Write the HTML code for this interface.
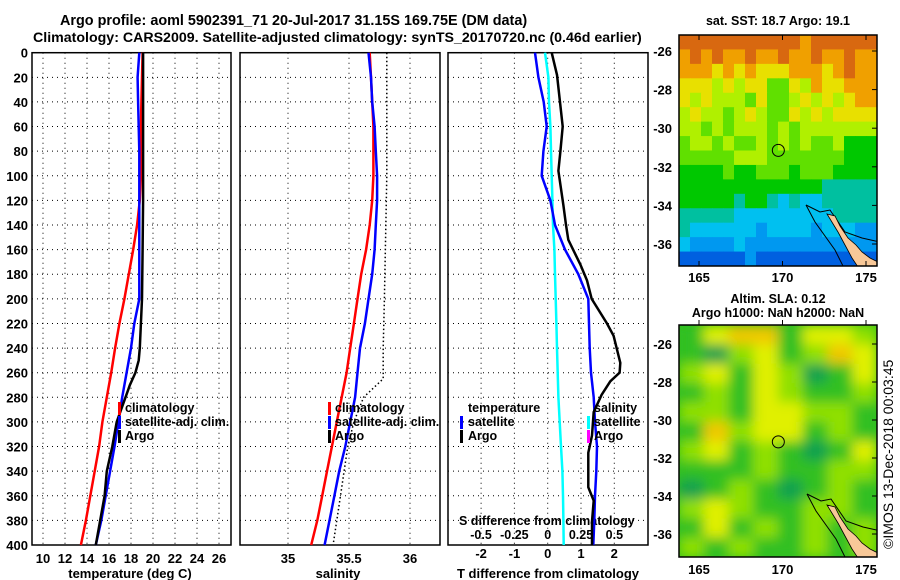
<!DOCTYPE html>
<html><head><meta charset="utf-8"><style>
html,body{margin:0;padding:0;background:#fff;}
svg{display:block;font-family:"Liberation Sans",sans-serif;font-weight:bold;}
</style></head><body>
<svg id="chart" width="900" height="580" viewBox="0 0 900 580" xmlns="http://www.w3.org/2000/svg">
<rect width="900" height="580" fill="#fff"/>
<text x="60" y="25" font-size="14.4">Argo profile: aoml 5902391_71 20-Jul-2017 31.15S 169.75E (DM data)</text>
<text x="33" y="42" font-size="14.2">Climatology: CARS2009. Satellite-adjusted climatology: synTS_20170720.nc (0.46d earlier)</text>
<g id="g"></g>
</svg>
<script>
// ---- data ----
const depths = [0,20,40,60,80,100,120,140,160,180,200,220,240,260,280,300,320,340,360,380,400];
const tempClim = [19.05,19.0,18.95,18.9,18.9,18.9,18.8,18.55,18.2,17.8,17.4,16.95,16.55,16.2,15.8,15.4,15.1,14.7,14.3,13.9,13.45];
const tempSat = [18.75,18.6,18.65,18.7,18.75,18.75,18.75,18.75,18.75,18.75,18.75,18.3,18.0,17.6,17.2,16.85,16.5,16.1,15.7,15.3,14.8];
const argoDepths = [0,40,80,120,160,200,220,240,250,260,270,280,300,320,340,360,380,400];
const tempArgo = [19.1,19.1,19.1,19.1,19.05,19.0,18.9,18.8,18.7,18.4,17.9,17.5,16.7,16.3,15.8,15.6,15.2,14.8];
const salClim = [35.67,35.68,35.69,35.7,35.7,35.7,35.69,35.67,35.64,35.6,35.57,35.54,35.51,35.48,35.44,35.4,35.36,35.32,35.28,35.24,35.19];
const salSat = [35.66,35.68,35.69,35.71,35.72,35.73,35.73,35.72,35.71,35.69,35.66,35.63,35.59,35.57,35.55,35.51,35.47,35.42,35.38,35.34,35.3];
const salArgoDepths = [0,100,200,240,265,280,300,320,340,360,380,400];
const salArgo = [35.81,35.81,35.79,35.78,35.78,35.62,35.54,35.49,35.46,35.43,35.4,35.37];
const tdiffSat = [-0.38,-0.28,-0.12,-0.03,-0.13,-0.18,0.08,0.22,0.52,0.92,1.22,1.24,1.26,1.3,1.38,1.42,1.48,1.46,1.42,1.4,1.37];
const tdArgoDepths = [0,18,60,80,96,124,140,152,172,185,200,220,230,252,260,267,278,292,311,325,353,364,381,400];
const tdiffArgo = [0.12,0.28,0.45,0.38,0.32,0.47,0.55,0.62,0.98,1.18,1.32,1.78,1.98,2.18,2.16,1.88,1.62,1.38,1.33,1.22,1.22,1.38,1.33,1.33];
const sdiffSat = [-0.02,0.005,0.01,0.02,0.025,0.03,0.035,0.04,0.05,0.055,0.06,0.065,0.07,0.075,0.08,0.09,0.1,0.11,0.115,0.118,0.12];
const depthTicks = [0,20,40,60,80,100,120,140,160,180,200,220,240,260,280,300,320,340,360,380,400];
const tempTicks = [10,12,14,16,18,20,22,24,26];
const salTicks = [35,35.5,36];
const tdTicks = [-2,-1,0,1,2];
const sdTicks = [-0.5,-0.25,0,0.25,0.5];
const sstGrid = ["AAAAAAAAAAA9AAAAAA","9A9A99A99A99A99A99","999898988899989A99","888787886687988999","878777686678787899","787767876687878888","776767776767777777","677676676767667555","666667776666666555","555565566656665555","555555555555544444","555554554343344444","444443333333334444","433333323333233322","322223222222222222","111111211111111111"];
const slaGrid = ["13441332","10231243","23132013","12132112","22133221","14233121","23121013","11121122","01210121","23211221","13121212","21211212"];
const latTicks = [-26,-28,-30,-32,-34,-36];
const lonTicks = [165,170,175];
const argoLon = 169.75, argoLat = -31.15;

// ---- helpers ----
const NS="http://www.w3.org/2000/svg";
const G=document.getElementById('g');
function mk(tag,attrs,parent){const e=document.createElementNS(NS,tag);for(const k in attrs)e.setAttribute(k,attrs[k]);(parent||G).appendChild(e);return e;}
const Y0=52.7, PH=492.3;
const yD=d=>Y0+d*(PH/400);
const xT=t=>32+(t-9)*11;
const xS=s=>288+(s-35)*122;
const xTD=t=>547.7+t*33.3;
const xSD=s=>547.7+s*133.3;
function line(xs,ds,xf,color,w,dash,name){
  const p=xs.map((v,i)=>xf(v).toFixed(1)+','+yD(ds[i]).toFixed(1)).join(' ');
  const a={points:p,fill:'none',stroke:color,'stroke-width':w};
  if(dash)a['stroke-dasharray']=dash;
  const e=mk('polyline',a);
  
  
}
function txt(x,y,s,anchor,size,name){const e=mk('text',{x:x,y:y,'font-size':size||13,'text-anchor':anchor||'start'});e.textContent=s;
  
  
  return e;}
function panel(x0,x1,vx,name){
  for(const d of depthTicks){if(d===0||d===400)continue;const l=mk('line',{x1:x0,x2:x1,y1:yD(d),y2:yD(d),stroke:'#000','stroke-width':1,'stroke-dasharray':'1,4'});
    
    }
  for(const v of vx){const l=mk('line',{x1:v,x2:v,y1:Y0,y2:Y0+PH,stroke:'#000','stroke-width':1,'stroke-dasharray':'1,4'});
    
    }
  const r=mk('rect',{x:x0,y:Y0,width:x1-x0,height:PH,fill:'none',stroke:'#000','stroke-width':1.5});
  
  
}
function mark(x,y,color){const r=mk('rect',{x:x,y:y-10,width:3,height:13,fill:color});
  
  }

// ---- panel 1: temperature ----
panel(32,231,tempTicks.map(xT),'temperature-panel');
for(const d of depthTicks) txt(28,yD(d)+5,String(d),'end',13,'depth-tick-label');
for(const t of tempTicks) txt(xT(t),563,String(t),'middle',13,'temperature-tick-label');
txt(130,578,'temperature (deg C)','middle',13,'temperature-axis-title');
line(tempClim,depths,xT,'#f00',2.5,null,'temp-climatology-line');
line(tempSat,depths,xT,'#00f',2.5,null,'temp-satellite-line');
line(tempArgo,argoDepths,xT,'#000',2.5,null,'temp-argo-line');
mark(118,412,'#f00');mark(118,426,'#00f');mark(118,440,'#000');
txt(125,412,'climatology','start',12.5,'legend-climatology');
txt(125,426,'satellite-adj. clim.','start',12.5,'legend-satellite-adj');
txt(125,440,'Argo','start',12.5,'legend-argo');

// ---- panel 2: salinity ----
panel(240,440,salTicks.map(xS),'salinity-panel');
for(const s of salTicks) txt(xS(s),563,String(s),'middle',13,'salinity-tick-label');
txt(338,578,'salinity','middle',13,'salinity-axis-title');
line(salClim,depths,xS,'#f00',2.5,null,'sal-climatology-line');
line(salSat,depths,xS,'#00f',2.5,null,'sal-satellite-line');
line(salArgo,salArgoDepths,xS,'#000',1.5,'1.5,2.5','sal-argo-line');
mark(328,412,'#f00');mark(328,426,'#00f');mark(328,440,'#000');
txt(335,412,'climatology','start',12.5,'legend-climatology');
txt(335,426,'satellite-adj. clim.','start',12.5,'legend-satellite-adj');
txt(335,440,'Argo','start',12.5,'legend-argo');

// ---- panel 3: differences ----
panel(448,648,tdTicks.map(xTD),'difference-panel');
for(const t of tdTicks) txt(xTD(t),558,String(t),'middle',13,'tdiff-tick-label');
txt(548,578,'T difference from climatology','middle',13,'tdiff-axis-title');
txt(459,525,'S difference from climatology','start',12.5,'sdiff-axis-title');
for(const s of sdTicks) txt(xSD(s),539,String(s),'middle',12.5,'sdiff-tick-label');
line(sdiffSat,depths,xSD,'#00ffff',2.5,null,'sdiff-satellite-line');
line(tdiffSat,depths,xTD,'#00f',2.5,null,'tdiff-satellite-line');
line(tdiffArgo,tdArgoDepths,xTD,'#000',2.5,null,'tdiff-argo-line');
txt(468,412,'temperature','start',12.5,'legend-temperature');
mark(460,426,'#00f');mark(460,440,'#000');
txt(468,426,'satellite','start',12.5,'legend-satellite');
txt(468,440,'Argo','start',12.5,'legend-argo');
txt(594,412,'salinity','start',12.5,'legend-salinity');
mark(587,426,'#00ffff');mark(587,440,'#ff00ff');
txt(594,426,'satellite','start',12.5,'legend-satellite');
txt(594,440,'Argo','start',12.5,'legend-argo');

// ---- maps ----
const defs=mk('defs',{});
const c1=mk('clipPath',{id:'c1'},defs);mk('rect',{x:679,y:35,width:198,height:231},c1);
const c2=mk('clipPath',{id:'c2'},defs);mk('rect',{x:679,y:325,width:198,height:232},c2);
const f=mk('filter',{id:'blur',x:'-20%',y:'-20%',width:'140%',height:'140%'},defs);mk('feGaussianBlur',{stdDeviation:6},f);
const sstColors=['#0030c0','#0060e0','#0098f0','#00c0f0','#00c0a0','#00c800','#60e000','#b0f000','#e8e000','#f0a000','#d86810'];
const slaColors=['#10a050','#30c020','#90e000','#e0f000','#f0c800'];
// map 1
(function(){
  const X=lon=>699+(lon-165)*16.7, Y=lat=>51+(-26-lat)*19.3;
  const g=mk('g',{'clip-path':'url(#c1)'});
  
  
  const nr=sstGrid.length, nc=sstGrid[0].length, cw=198/nc, ch=231/nr;
  sstGrid.forEach((row,r)=>{[...row].forEach((c,ci)=>{const v=c==='A'?10:+c;
    const cell=mk('rect',{x:679+ci*cw,y:35+r*ch,width:cw+0.5,height:ch+0.5,fill:sstColors[v]},g);
    
    });});
  mk('polyline',{points:'806,205 820,212 830,210 845,232 862,238 880,242',fill:'none',stroke:'#000','stroke-width':1},g);
  mk('polyline',{points:'806,205 815,222 835,250 845,270',fill:'none',stroke:'#000','stroke-width':1},g);
  const land=mk('polygon',{points:'827,214 835,216 840,226 848,238 856,245 862,252 870,258 878,262 878,270 860,270 852,258 845,245 838,232',fill:'#f8c898',stroke:'#000','stroke-width':0.8},g);
  
  
  const c=mk('circle',{cx:X(argoLon),cy:Y(argoLat),r:6,fill:'none',stroke:'#000','stroke-width':1});
  
  
  const fr=mk('rect',{x:679,y:35,width:198,height:231,fill:'none',stroke:'#000','stroke-width':1.5});
  
  
  for(const l of latTicks){txt(672,Y(l)+5,String(l),'end',13,'latitude-tick-label');mk('line',{x1:872,x2:877,y1:Y(l),y2:Y(l),stroke:'#000'});}
  for(const l of lonTicks){txt(X(l),282,String(l),'middle',13,'longitude-tick-label');mk('line',{x1:X(l),x2:X(l),y1:261,y2:266,stroke:'#000'});mk('line',{x1:X(l),x2:X(l),y1:35,y2:40,stroke:'#000'});}
  txt(778,25,'sat. SST: 18.7 Argo: 19.1','middle',12.5,'sst-map-title');
})();
// map 2
(function(){
  const X=lon=>699+(lon-165)*16.7, Y=lat=>344+(-26-lat)*19;
  const g=mk('g',{'clip-path':'url(#c2)'});
  
  
  mk('rect',{x:679,y:325,width:198,height:232,fill:slaColors[1]},g);
  const bg=mk('g',{filter:'url(#blur)'},g);
  const nr=slaGrid.length, nc=slaGrid[0].length, cw=198/nc, ch=232/nr;
  slaGrid.forEach((row,r)=>{[...row].forEach((c,ci)=>{
    const cell=mk('rect',{x:679+ci*cw,y:325+r*ch,width:cw+0.5,height:ch+0.5,fill:slaColors[+c]},bg);
    
    });});
  mk('polyline',{points:'807,494 821,501 831,499 846,521 863,527 881,531',fill:'none',stroke:'#000','stroke-width':1},g);
  mk('polyline',{points:'807,494 816,511 836,539 846,559',fill:'none',stroke:'#000','stroke-width':1},g);
  const land=mk('polygon',{points:'827,505 835,507 840,517 848,529 856,536 862,543 870,549 878,553 878,561 860,561 852,549 845,536 838,523',fill:'#f8c898',stroke:'#000','stroke-width':0.8},g);
  
  
  const c=mk('circle',{cx:X(argoLon),cy:Y(argoLat),r:6,fill:'none',stroke:'#000','stroke-width':1});
  
  
  const fr=mk('rect',{x:679,y:325,width:198,height:232,fill:'none',stroke:'#000','stroke-width':1.5});
  
  
  for(const l of latTicks){txt(672,Y(l)+5,String(l),'end',13,'latitude-tick-label');mk('line',{x1:872,x2:877,y1:Y(l),y2:Y(l),stroke:'#000'});}
  for(const l of lonTicks){txt(X(l),574,String(l),'middle',13,'longitude-tick-label');mk('line',{x1:X(l),x2:X(l),y1:320,y2:325,stroke:'#000'});}
  txt(778,303,'Altim. SLA: 0.12','middle',12.5,'sla-map-title');
  txt(778,317,'Argo h1000: NaN h2000: NaN','middle',12.5,'sla-map-subtitle');
})();
const ts=txt(0,0,'©IMOS 13-Dec-2018 00:03:45','start',14,'timestamp');
ts.setAttribute('font-weight','normal');
ts.setAttribute('transform','translate(893,549) rotate(-90)');
</script>
</body></html>
